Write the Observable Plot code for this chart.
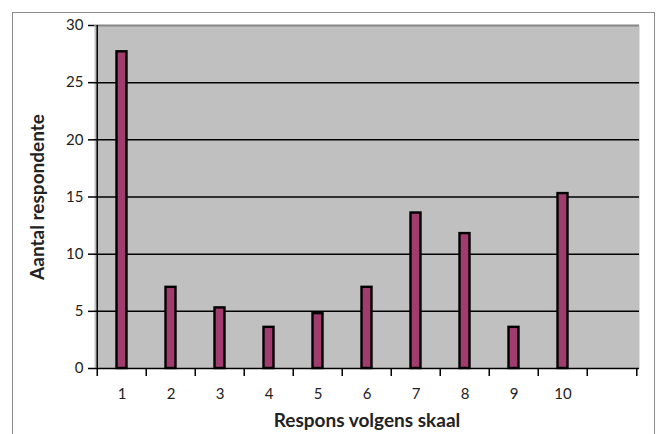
<!DOCTYPE html>
<html>
<head>
<meta charset="utf-8">
<script src="https://cdn.jsdelivr.net/npm/d3@7"></script>
<script src="https://cdn.jsdelivr.net/npm/@observablehq/plot@0.6"></script>
<style>
  html, body { margin: 0; padding: 0; background: #ffffff; }
  #wrap { position: relative; width: 660px; height: 434px; overflow: hidden; }
  #border { position: absolute; left: 12px; top: 12px; width: 643px; height: 440px; border: 1px solid #8c8c8c; box-sizing: border-box; }
  #chart { position: absolute; left: 0; top: 0; }
</style>
</head>
<body>
<div id="wrap"><div id="border"></div><div id="chart"></div></div>
<script>
const categories = ["1", "2", "3", "4", "5", "6", "7", "8", "9", "10"];
const values = [27.7, 7.1, 5.3, 3.6, 4.8, 7.1, 13.6, 11.8, 3.6, 15.3];
const yTicks = [0, 5, 10, 15, 20, 25, 30];
const xTitle = "Respons volgens skaal";
const yTitle = "Aantal respondente";

const data = categories.map((c, i) => ({cat: c, value: values[i]}));
const xDomain = [...categories, " "];

const W = 660, H = 434;
const mL = 94, mR = 21, mT = 25, mB = 66;
const bw = (W - mL - mR) / xDomain.length;
const font = "Lato, 'Open Sans', sans-serif";

const chart = Plot.plot({
  width: W,
  height: H,
  marginLeft: mL,
  marginRight: mR,
  marginTop: mT,
  marginBottom: mB,
  style: {fontFamily: font, fontSize: "15px", color: "#222", background: "transparent"},
  x: {domain: xDomain, padding: 0, axis: null},
  y: {domain: [0, 30], axis: null},
  marks: [
    Plot.frame({fill: "#c0c0c0", stroke: null}),
    Plot.ruleY(yTicks.filter(t => t > 0 && t < 30), {stroke: "#000", strokeWidth: 1.5}),
    Plot.ruleY([30], {stroke: "#858585", strokeWidth: 2}),
    Plot.barY(data, {
      x: "cat", y: "value",
      fill: "#a03c6e", stroke: "#000", strokeWidth: 2.4,
      insetLeft: 19.5, insetRight: 19.5
    }),
    Plot.ruleY([0], {stroke: "#000", strokeWidth: 1.5}),
    Plot.ruleX([categories[0]], {dx: -bw / 2, stroke: "#000", strokeWidth: 1.5}),
    // y axis ticks and labels
    Plot.axisY(yTicks, {tickSize: 6, tickPadding: 5, strokeWidth: 1.5, stroke: "#000", label: null, fontSize: 15, fill: "#222"}),
    // x boundary ticks
    Plot.axisX(xDomain, {tickSize: 8, dx: -bw / 2, text: null, strokeWidth: 1.5, stroke: "#000", label: null}),
    Plot.axisX([xDomain[xDomain.length - 1]], {tickSize: 8, dx: bw / 2, text: null, strokeWidth: 1.5, stroke: "#000", label: null}),
    // x labels
    Plot.axisX(categories, {tickSize: 0, tickPadding: 20, label: null, fontSize: 15, fill: "#222"}),
    // titles
    Plot.text([xTitle], {frameAnchor: "bottom", dy: 52, text: d => d, fontWeight: "bold", fontSize: 19, fill: "#222", lineAnchor: "middle", textAnchor: "middle"}),
    Plot.text([yTitle], {frameAnchor: "left", dx: -57, rotate: -90, text: d => d, fontWeight: "bold", fontSize: 19, fill: "#222", lineAnchor: "middle", textAnchor: "middle"})
  ]
});
document.getElementById("chart").appendChild(chart);
</script>
</body>
</html>
